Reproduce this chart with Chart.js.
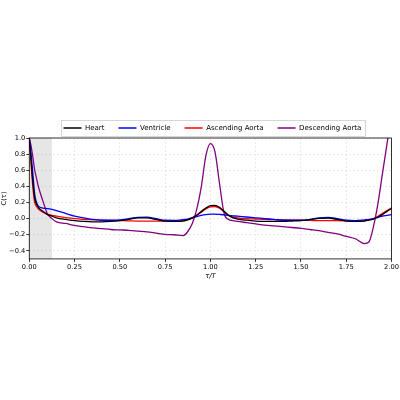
<!DOCTYPE html>
<html><head><meta charset="utf-8">
<script src="https://cdn.jsdelivr.net/npm/chart.js@4"></script>
<style>html,body{margin:0;padding:0;background:#fff}#wrap{width:400px;height:400px}</style>
</head><body><div id="wrap"><canvas id="c" width="400" height="400"></canvas></div>
<script>
const tau = [0,0.01,0.02,0.03,0.04,0.05,0.075,0.1,0.125,0.15,0.2,0.25,0.3,0.35,0.4,0.45,0.5,0.55,0.6,0.65,0.7,0.75,0.8,0.85,0.875,0.9,0.925,0.95,0.975,1.0,1.025,1.05,1.075,1.1,1.125,1.15,1.2,1.25,1.3,1.35,1.4,1.45,1.5,1.55,1.6,1.65,1.7,1.75,1.8,1.85,1.875,1.9,1.925,1.95,1.975,2.0];
const heart = [1.0,0.72,0.45,0.25,0.18,0.14,0.09,0.05,0.03,0.01,-0.01,-0.025,-0.035,-0.04,-0.04,-0.035,-0.025,-0.01,0.01,0.01,-0.01,-0.03,-0.035,-0.03,-0.015,0.01,0.045,0.09,0.13,0.16,0.165,0.14,0.09,0.04,0.01,-0.005,-0.02,-0.03,-0.035,-0.035,-0.035,-0.03,-0.025,-0.012,0.003,0.005,-0.01,-0.03,-0.035,-0.03,-0.02,-0.005,0.02,0.05,0.09,0.125];
const ventricle = [1.0,0.8,0.55,0.3,0.2,0.155,0.13,0.125,0.115,0.1,0.065,0.03,0.01,-0.01,-0.02,-0.02,-0.015,0.0,0.015,0.018,0.0,-0.02,-0.022,-0.012,-0.005,0.01,0.025,0.04,0.05,0.055,0.055,0.052,0.048,0.04,0.035,0.03,0.02,0.01,0.0,-0.01,-0.02,-0.02,-0.02,-0.01,0.008,0.015,0.0,-0.02,-0.025,-0.015,-0.01,0.0,0.015,0.03,0.04,0.05];
const ascending = [1.0,0.68,0.38,0.2,0.15,0.12,0.08,0.055,0.04,0.03,0.012,0.0,-0.01,-0.015,-0.02,-0.022,-0.025,-0.028,-0.03,-0.03,-0.03,-0.03,-0.03,-0.025,-0.012,0.01,0.04,0.08,0.12,0.145,0.15,0.13,0.085,0.045,0.02,0.01,0.0,-0.005,-0.01,-0.012,-0.015,-0.018,-0.02,-0.022,-0.025,-0.025,-0.025,-0.028,-0.03,-0.025,-0.015,0.0,0.03,0.065,0.1,0.135];
const descending = [1.0,0.9,0.76,0.6,0.5,0.4,0.22,0.06,0.0,-0.04,-0.06,-0.085,-0.1,-0.115,-0.125,-0.135,-0.14,-0.145,-0.155,-0.165,-0.18,-0.195,-0.2,-0.21,-0.16,-0.06,0.12,0.4,0.78,0.93,0.83,0.44,0.07,-0.01,-0.025,-0.035,-0.05,-0.065,-0.08,-0.09,-0.1,-0.11,-0.12,-0.135,-0.15,-0.17,-0.19,-0.22,-0.25,-0.31,-0.29,-0.1,0.19,0.56,0.93,1.3];
const xTicks = [0,0.25,0.5,0.75,1.0,1.25,1.5,1.75,2.0];
const yTicks = [-0.4,-0.2,0,0.2,0.4,0.6,0.8,1.0];
const shadeEnd = 0.125;

const pts = arr => tau.map((t,i)=>({x:t,y:arr[i]}));
const FONT = 'DejaVu Sans';
const mk = (label, arr, color) => ({label, data: pts(arr), borderColor: color, backgroundColor: color, borderWidth: 1.3, pointRadius: 0, cubicInterpolationMode: 'monotone', fill: false});

function hbBounds(legend){
  const hb = legend.legendHitBoxes || [];
  if (!hb.length) return null;
  return {
    l: Math.min(...hb.map(b=>b.left)), r: Math.max(...hb.map(b=>b.left+b.width)),
    t: Math.min(...hb.map(b=>b.top)), b: Math.max(...hb.map(b=>b.top+b.height))
  };
}

const framePlugin = {
  id: 'frame',
  afterUpdate(chart){
    const legend = chart.legend, a = chart.chartArea;
    const bb = legend && hbBounds(legend);
    if (!bb) return;
    const dx = ((a.left + a.right)/2 + 2) - (bb.l + bb.r)/2;
    const dy = (a.top - 10) - (bb.t + bb.b)/2;
    legend.left += dx; legend.right += dx;
    legend.top += dy; legend.bottom += dy;
    legend.legendHitBoxes.forEach(h => { h.left += dx; h.top += dy; });
  },
  beforeDatasetsDraw(chart){
    const {ctx, chartArea:a, scales:{x}} = chart;
    ctx.save();
    ctx.fillStyle = 'rgba(128,128,128,0.2)';
    const x0 = x.getPixelForValue(0), x1 = x.getPixelForValue(shadeEnd);
    ctx.fillRect(x0, a.top, x1-x0, a.bottom-a.top);
    ctx.restore();
  },
  afterDraw(chart){
    const {ctx, chartArea:a, legend} = chart;
    ctx.save();
    ctx.strokeStyle = '#000'; ctx.lineWidth = 0.8;
    ctx.strokeRect(a.left, a.top, a.right-a.left, a.bottom-a.top);
    const bb = legend && hbBounds(legend);
    if (bb) {
      ctx.strokeStyle = '#cccccc'; ctx.lineWidth = 0.8;
      ctx.strokeRect(Math.round(bb.l-3)+0.5, Math.round(bb.t-5)+0.5, Math.round(bb.r-bb.l+6), Math.round(bb.b-bb.t+9));
    }
    ctx.restore();
  }
};

new Chart(document.getElementById('c'), {
  type: 'line',
  data: { datasets: [
    mk('Heart', heart, '#000000'),
    mk('Ventricle', ventricle, '#0000ff'),
    mk('Ascending Aorta', ascending, '#ff0000'),
    mk('Descending Aorta', descending, '#800080')
  ]},
  options: {
    responsive: false, animation: false, devicePixelRatio: 1,
    layout: { padding: { left: 0, right: 7, top: 107, bottom: 120 } },
    plugins: {
      legend: { position: 'top', labels: { font: {family: FONT, size: 7}, color: '#000', usePointStyle: true, pointStyle: 'line', pointStyleWidth: 18, boxHeight: 7, padding: 14 } },
      tooltip: { enabled: false }
    },
    scales: {
      x: { type: 'linear', min: 0, max: 2,
        afterBuildTicks: s => { s.ticks = xTicks.map(v=>({value:v})); },
        ticks: { font: {family: FONT, size: 6.7}, color: '#000', maxRotation: 0, padding: 1, callback: v => v.toFixed(2) },
        grid: { color: '#dddddd', lineWidth: 0.6, tickColor: '#000', tickLength: 3, tickWidth: 0.8 },
        border: { display: false, dash: [2,2] },
        title: { display: true, text: 'τ/T', font: {family: FONT, size: 6.7, style: 'italic'}, color: '#000', padding: {top: 0, bottom: 0} }
      },
      y: { min: -0.5, max: 1.0,
        afterBuildTicks: s => { s.ticks = yTicks.map(v=>({value:v})); },
        ticks: { font: {family: FONT, size: 6.7}, color: '#000', padding: 1, callback: v => v.toFixed(1).replace('-', '\u2212') },
        grid: { color: '#dddddd', lineWidth: 0.6, tickColor: '#000', tickLength: 3, tickWidth: 0.8 },
        border: { display: false, dash: [2,2] },
        title: { display: true, text: 'C(τ)', font: {family: FONT, size: 6.7}, color: '#000', padding: {top: 0, bottom: 0} }
      }
    }
  },
  plugins: [framePlugin]
});
</script></body></html>
